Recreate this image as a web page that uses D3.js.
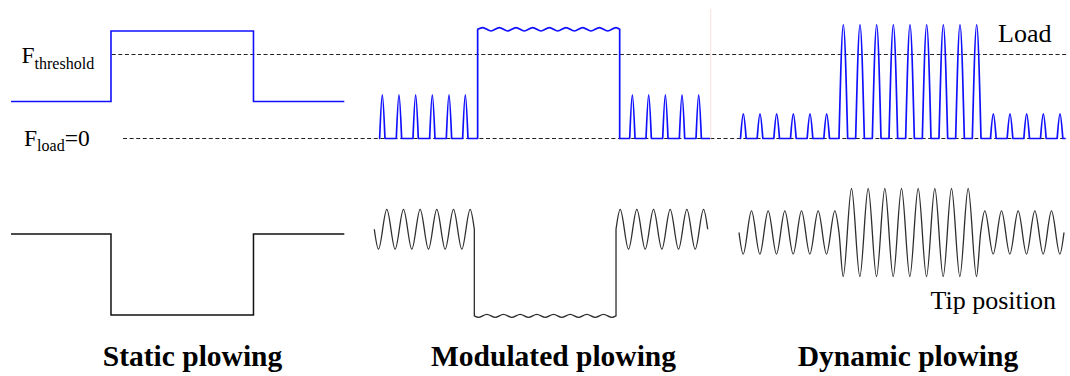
<!DOCTYPE html>
<html>
<head>
<meta charset="utf-8">
<script src="https://cdn.jsdelivr.net/npm/d3@7"></script>
<style>
  body { margin: 0; background: #fff; }
  svg { display: block; }
</style>
</head>
<body>
<svg id="chart" width="1070" height="376"></svg>
<script>
// ---------------------------------------------------------------
// Data. Time runs in tip-oscillation periods; load is expressed
// relative to the plowing threshold (0 = no load, 1 = threshold);
// tip position is a depth (0 = rest level, 1 = full static depth).
// ---------------------------------------------------------------
const panelTitles  = ["Static plowing", "Modulated plowing", "Dynamic plowing"];
const panelDomains = [[0, 20], [0, 20], [0, 19.5]];

// Static plowing: step changes of load and tip depth
const staticLoadTimes  = [0, 6, 14.55, 20];
const staticLoadLevels = [0.44, 1.28, 0.44, 0.44];
const staticTipTimes   = [0, 6, 14.55, 20];
const staticTipLevels  = [0.024, 1.0, 0.024, 0.024];

// Modulated plowing: load
const modLoadSpan     = [0.28, 20.14];
const modPulseTimes   = [0.48, 1.48, 2.48, 3.48, 4.48, 5.46, 15.48, 16.46, 17.46, 18.46, 19.46];
const modPulseHeights = [0.52, 0.52, 0.52, 0.52, 0.52, 0.52, 0.52, 0.52, 0.52, 0.52, 0.52];
const modPulseWidths  = [0.32, 0.32, 0.32, 0.32, 0.32, 0.32, 0.32, 0.32, 0.32, 0.32, 0.32];
const modHoldSpan     = [6.2, 14.72];
const modHoldLevel    = 1.30;
const modHoldRipple   = 0.02;

// Modulated plowing: tip position, piecewise oscillation
const modTipStarts  = [0, 6, 14.5];
const modTipEnds    = [6, 14.5, 20];
const modTipCenters = [-0.033, 1.01, -0.033];
const modTipAmps    = [0.24, 0.018, 0.24];

// Dynamic plowing: load pulses
const dynLoadSpan     = [0.06, 19.6];
const dynPulseTimes   = [0.26, 1.26, 2.26, 3.26, 4.26, 5.26,
                         6.26, 7.26, 8.26, 9.26, 10.26, 11.26, 12.26, 13.26, 14.26,
                         15.26, 16.26, 17.26, 18.26, 19.26];
const dynPulseHeights = [0.294, 0.294, 0.294, 0.294, 0.294, 0.294,
                         1.354, 1.354, 1.354, 1.354, 1.354, 1.354, 1.354, 1.354, 1.354,
                         0.294, 0.294, 0.294, 0.294, 0.294];
const dynPulseWidths  = [0.34, 0.34, 0.34, 0.34, 0.34, 0.34,
                         0.52, 0.52, 0.52, 0.52, 0.52, 0.52, 0.52, 0.52, 0.52,
                         0.34, 0.34, 0.34, 0.34, 0.34];

// Dynamic plowing: tip position
const dynTipStarts  = [0, 6, 14.5];
const dynTipEnds    = [6, 14.5, 19.5];
const dynTipCenters = [0.006, 0.006, 0.006];
const dynTipAmps    = [0.26, 0.53, 0.26];

// ---------------------------------------------------------------
// Layout
// ---------------------------------------------------------------
const layout = {
  panelX: [[11, 344.3], [374.3, 707.7], [739, 1064]],
  loadY: [138.5, 54.5],      // pixel rows of load 0 and load 1
  tipY: [232, 315],          // pixel rows of depth 0 and depth 1
  thresholdX: [111.7, 1067],
  zeroX: [123, 1067],
  titleX: [192.5, 553.5, 908],
  titleY: 366
};

const blue = "#1010ff";
const svg = d3.select("#chart");

const xScales = panelDomains.map((d, i) => d3.scaleLinear().domain(d).range(layout.panelX[i]));
const yLoad = d3.scaleLinear().domain([0, 1]).range(layout.loadY);
const yTip  = d3.scaleLinear().domain([0, 1]).range(layout.tipY);

// Joins several smooth pieces into one path; pieces are linked by straight segments.
function piecesPath(pieces, x, y) {
  const line = d3.line().x(d => x(d[0])).y(d => y(d[1])).curve(d3.curveMonotoneX);
  return pieces.map((p, i) => { const s = line(p); return i ? "L" + s.slice(1) : s; }).join("");
}

// Extremes of the tip oscillation: deepest at k+0.25, shallowest at k+0.75.
function oscillation(t0, t1, center, amp) {
  const pts = [[t0, center]];
  for (let k = Math.floor(t0); k < t1; k++) {
    [[k + 0.25, center + amp], [k + 0.75, center - amp]].forEach(p => {
      if (p[0] > t0 + 1e-9 && p[0] < t1 - 1e-9) pts.push(p);
    });
  }
  pts.push([t1, center]);
  return pts;
}

// Pulse train on a zero baseline; each pulse is one smooth piece.
function pulsePieces(span, times, heights, widths) {
  const pieces = [];
  let cursor = span[0];
  times.forEach((t, i) => {
    const a = t - widths[i] / 2, b = t + widths[i] / 2;
    pieces.push([[cursor, 0], [a, 0]]);
    pieces.push([[a, 0], [t, heights[i]], [b, 0]]);
    cursor = b;
  });
  pieces.push([[cursor, 0], [span[1], 0]]);
  return pieces;
}

// Step series as straight pieces
function stepPieces(times, levels) {
  const pieces = [];
  for (let i = 0; i < times.length - 1; i++) {
    pieces.push([[times[i], levels[i]], [times[i + 1], levels[i]]]);
  }
  return pieces;
}

// --- reference lines ---------------------------------------------
const refs = svg.append("g").attr("stroke", "#222").attr("stroke-width", 1)
  .attr("stroke-dasharray", "4,2.6");
refs.append("line")
  .attr("x1", layout.thresholdX[0]).attr("x2", layout.thresholdX[1])
  .attr("y1", yLoad(1)).attr("y2", yLoad(1));
refs.append("line")
  .attr("x1", layout.zeroX[0]).attr("x2", layout.zeroX[1])
  .attr("y1", yLoad(0)).attr("y2", yLoad(0));

// faint guide at the right end of the modulated panel
svg.append("line")
  .attr("x1", xScales[1](20.18)).attr("x2", xScales[1](20.18))
  .attr("y1", 9).attr("y2", yLoad(0))
  .attr("stroke", "#ffdede").attr("stroke-width", 1);

// --- static plowing ----------------------------------------------
svg.append("path")
  .attr("d", piecesPath(stepPieces(staticLoadTimes, staticLoadLevels), xScales[0], yLoad))
  .attr("fill", "none").attr("stroke", blue).attr("stroke-width", 1.6);
svg.append("path")
  .attr("d", piecesPath(stepPieces(staticTipTimes, staticTipLevels), xScales[0], yTip))
  .attr("fill", "none").attr("stroke", "#111").attr("stroke-width", 1.5);

// --- modulated plowing -------------------------------------------
{
  const before = modPulseTimes.map((t, i) => i).filter(i => modPulseTimes[i] < modHoldSpan[0]);
  const after  = modPulseTimes.map((t, i) => i).filter(i => modPulseTimes[i] > modHoldSpan[1]);
  const pick = (arr, idx) => idx.map(i => arr[i]);
  const p1 = pulsePieces([modLoadSpan[0], modHoldSpan[0]],
    pick(modPulseTimes, before), pick(modPulseHeights, before), pick(modPulseWidths, before));
  const ripple = [[modHoldSpan[0], modHoldLevel]];
  for (let k = Math.floor(modHoldSpan[0]); k <= modHoldSpan[1]; k++) {
    [[k, modHoldLevel - modHoldRipple], [k + 0.5, modHoldLevel + modHoldRipple]].forEach(p => {
      if (p[0] > modHoldSpan[0] && p[0] < modHoldSpan[1]) ripple.push(p);
    });
  }
  ripple.push([modHoldSpan[1], modHoldLevel]);
  const p2 = pulsePieces([modHoldSpan[1], modLoadSpan[1]],
    pick(modPulseTimes, after), pick(modPulseHeights, after), pick(modPulseWidths, after));
  svg.append("path")
    .attr("d", piecesPath([...p1, ripple, ...p2], xScales[1], yLoad))
    .attr("fill", "none").attr("stroke", blue).attr("stroke-width", 1.7)
    .attr("stroke-linejoin", "round");

  const tipPieces = modTipStarts.map((s, i) => oscillation(s, modTipEnds[i], modTipCenters[i], modTipAmps[i]));
  svg.append("path")
    .attr("d", piecesPath(tipPieces, xScales[1], yTip))
    .attr("fill", "none").attr("stroke", "#2e2e2e").attr("stroke-width", 1.3);
}

// --- dynamic plowing ---------------------------------------------
{
  svg.append("path")
    .attr("d", piecesPath(pulsePieces(dynLoadSpan, dynPulseTimes, dynPulseHeights, dynPulseWidths), xScales[2], yLoad))
    .attr("fill", "none").attr("stroke", blue).attr("stroke-width", 1.7)
    .attr("stroke-linejoin", "round");

  // one continuous oscillation whose amplitude changes at segment borders
  let pts = [];
  dynTipStarts.forEach((s, i) => {
    const seg = oscillation(s, dynTipEnds[i], dynTipCenters[i], dynTipAmps[i]);
    pts = pts.concat(i ? seg.slice(1) : seg);
  });
  svg.append("path")
    .attr("d", piecesPath([pts], xScales[2], yTip))
    .attr("fill", "none").attr("stroke", "#2e2e2e").attr("stroke-width", 1.3);
}

// --- labels ------------------------------------------------------
const serif = "'Liberation Serif', 'Times New Roman', serif";

const fth = svg.append("text").attr("x", 21.5).attr("y", 63.3)
  .attr("font-family", serif).attr("font-size", 23.5).attr("fill", "#000");
fth.append("tspan").text("F");
fth.append("tspan").attr("font-size", 16).attr("dy", 5.7).text("threshold");

const fld = svg.append("text").attr("x", 24).attr("y", 145.7)
  .attr("font-family", serif).attr("font-size", 23.5).attr("fill", "#000");
fld.append("tspan").text("F");
fld.append("tspan").attr("font-size", 16).attr("dy", 5).text("load");
fld.append("tspan").attr("dy", -5).text("=0");

svg.append("text").attr("x", 998).attr("y", 41.7)
  .attr("font-family", serif).attr("font-size", 26).attr("fill", "#000").text("Load");
svg.append("text").attr("x", 930.5).attr("y", 309.3)
  .attr("font-family", serif).attr("font-size", 26).attr("fill", "#000").text("Tip position");

svg.selectAll("text.title").data(panelTitles).join("text")
  .attr("class", "title")
  .attr("x", (d, i) => layout.titleX[i]).attr("y", layout.titleY)
  .attr("text-anchor", "middle")
  .attr("font-family", serif).attr("font-size", 29.5).attr("font-weight", "bold")
  .attr("fill", "#000").text(d => d);
</script>
</body>
</html>
